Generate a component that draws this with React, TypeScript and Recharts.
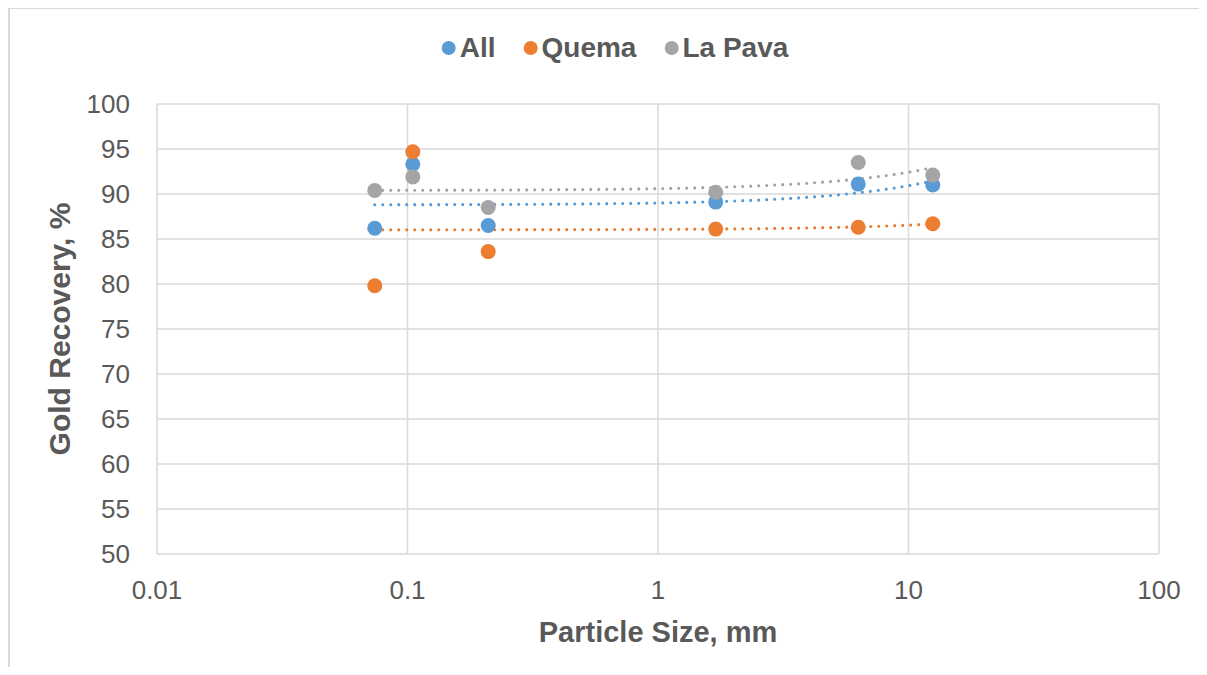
import React from 'react';
import { ScatterChart, Scatter, XAxis, YAxis, CartesianGrid } from 'recharts';

const particleSizes = [0.074, 0.105, 0.21, 1.7, 6.3, 12.5];
const allRecovery = [86.2, 93.3, 86.5, 89.1, 91.1, 91.0];
const quemaRecovery = [79.8, 94.7, 83.6, 86.1, 86.3, 86.7];
const laPavaRecovery = [90.4, 91.9, 88.5, 90.2, 93.5, 92.1];
const xTicks = [0.01, 0.1, 1, 10, 100];
const yTicks = [50, 55, 60, 65, 70, 75, 80, 85, 90, 95, 100];

const seriesNames = ['All', 'Quema', 'La Pava'];
const seriesColors = ['#5B9BD5', '#ED7D31', '#A5A5A5'];
const seriesValues = [allRecovery, quemaRecovery, laPavaRecovery];

const FONT = '"Liberation Sans", Arial, sans-serif';
const TEXT = '#595959';

const toPoints = (ys: number[]) => particleSizes.map((x, i) => ({ x, y: ys[i] }));

// Linear least-squares trendline (as Excel's linear trendline), sampled for a log axis
const trendPoints = (ys: number[]) => {
  const n = particleSizes.length;
  const mx = particleSizes.reduce((a, b) => a + b, 0) / n;
  const my = ys.reduce((a, b) => a + b, 0) / n;
  let sxy = 0;
  let sxx = 0;
  particleSizes.forEach((x, i) => {
    sxy += (x - mx) * (ys[i] - my);
    sxx += (x - mx) * (x - mx);
  });
  const slope = sxy / sxx;
  const intercept = my - slope * mx;
  const lo = Math.log10(Math.min(...particleSizes));
  const hi = Math.log10(Math.max(...particleSizes));
  const steps = 80;
  const pts = [];
  for (let k = 0; k <= steps; k++) {
    const x = Math.pow(10, lo + ((hi - lo) * k) / steps);
    pts.push({ x, y: intercept + slope * x });
  }
  return pts;
};

const XTick = (props: any) => {
  const { x, y, payload } = props;
  return (
    <text x={x} y={y + 45} textAnchor="middle" fill={TEXT} fontSize={26} fontFamily={FONT}>
      {String(payload.value)}
    </text>
  );
};

const YTick = (props: any) => {
  const { x, y, payload } = props;
  return (
    <text x={x - 27} y={y} dy="0.355em" textAnchor="end" fill={TEXT} fontSize={26} fontFamily={FONT}>
      {String(payload.value)}
    </text>
  );
};

const makeDot = (color: string) => (p: any) => (
  <circle cx={p.cx} cy={p.cy} r={7.5} fill={color} />
);
const noDot = () => <g />;

export default function App() {
  return (
    <div
      style={{
        position: 'relative',
        width: 1191,
        height: 659,
        boxSizing: 'border-box',
        borderLeft: '2px solid #d9d9d9',
        borderTop: '1px solid #d9d9d9',
        background: '#fff',
        overflow: 'hidden',
      }}
    >
      <ScatterChart
        width={1189}
        height={658}
        margin={{ top: 95, right: 40, bottom: 53, left: 0 }}
      >
        <CartesianGrid stroke="#d9d9d9" strokeWidth={1.5} />
        <XAxis
          type="number"
          dataKey="x"
          scale="log"
          domain={[0.01, 100]}
          ticks={xTicks}
          allowDataOverflow
          axisLine={false}
          tickLine={false}
          tickSize={0}
          tickMargin={0}
          height={60}
          tick={<XTick />}
        />
        <YAxis
          type="number"
          dataKey="y"
          domain={[50, 100]}
          ticks={yTicks}
          axisLine={false}
          tickLine={false}
          tickSize={0}
          tickMargin={0}
          width={147}
          tick={<YTick />}
        />
        {seriesValues.map((ys, i) => (
          <Scatter
            key={'trend-' + i}
            data={trendPoints(ys)}
            line={{
              stroke: seriesColors[i],
              strokeWidth: 3.2,
              strokeDasharray: '0 8',
              strokeLinecap: 'round',
            }}
            lineType="joint"
            shape={noDot}
            isAnimationActive={false}
          />
        ))}
        {seriesValues.map((ys, i) => (
          <Scatter
            key={'pts-' + i}
            name={seriesNames[i]}
            data={toPoints(ys)}
            fill={seriesColors[i]}
            shape={makeDot(seriesColors[i])}
            isAnimationActive={false}
          />
        ))}
      </ScatterChart>

      <div
        style={{
          position: 'absolute',
          left: 605,
          top: 39,
          transform: 'translate(-50%, -50%)',
          display: 'flex',
          alignItems: 'center',
          whiteSpace: 'nowrap',
          fontFamily: FONT,
          fontWeight: 'bold',
          fontSize: 28,
          color: TEXT,
          lineHeight: 1,
        }}
      >
        {seriesNames.map((n, i) => (
          <div key={n} style={{ display: 'flex', alignItems: 'center', marginLeft: i === 0 ? 0 : 28 }}>
            <span
              style={{
                display: 'inline-block',
                width: 14,
                height: 14,
                borderRadius: '50%',
                background: seriesColors[i],
                marginRight: 4,
              }}
            />
            <span>{n}</span>
          </div>
        ))}
      </div>

      <div
        style={{
          position: 'absolute',
          left: 648,
          top: 623,
          transform: 'translate(-50%, -50%)',
          whiteSpace: 'nowrap',
          fontFamily: FONT,
          fontWeight: 'bold',
          fontSize: 29,
          color: TEXT,
          lineHeight: 1,
        }}
      >
        Particle Size, mm
      </div>

      <div
        style={{
          position: 'absolute',
          left: 50,
          top: 320,
          transform: 'translate(-50%, -50%) rotate(-90deg)',
          whiteSpace: 'nowrap',
          fontFamily: FONT,
          fontWeight: 'bold',
          fontSize: 30,
          color: TEXT,
          lineHeight: 1,
        }}
      >
        Gold Recovery, %
      </div>
    </div>
  );
}
